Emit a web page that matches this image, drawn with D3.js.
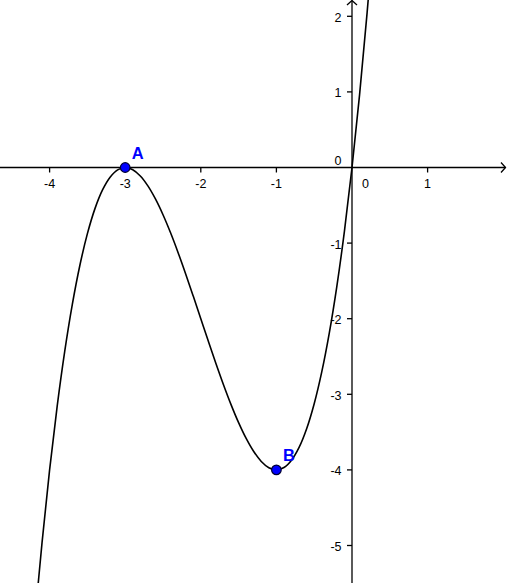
<!DOCTYPE html>
<html><head><meta charset="utf-8">
<script src="https://cdn.jsdelivr.net/npm/d3@7"></script>
<style>html,body{margin:0;padding:0;background:#fff;overflow:hidden}</style>
</head><body>
<script>
// Curve samples (x, y)
const curveX = [-4.2,-4.1,-4.0,-3.9,-3.8,-3.7,-3.6,-3.5,-3.4,-3.3,-3.2,-3.1,-3.0,-2.9,-2.8,-2.7,-2.6,-2.5,-2.4,-2.3,-2.2,-2.1,-2.0,-1.9,-1.8,-1.7,-1.6,-1.5,-1.4,-1.3,-1.2,-1.1,-1.0,-0.9,-0.8,-0.7,-0.6,-0.5,-0.4,-0.3,-0.2,-0.1,0.0,0.1,0.2,0.3];
const curveY = [-6.048,-4.961,-4,-3.159,-2.432,-1.813,-1.296,-0.875,-0.544,-0.297,-0.128,-0.031,0,-0.029,-0.112,-0.243,-0.416,-0.625,-0.864,-1.127,-1.408,-1.701,-2,-2.299,-2.592,-2.873,-3.136,-3.375,-3.584,-3.757,-3.888,-3.971,-4,-3.969,-3.872,-3.703,-3.456,-3.125,-2.704,-2.187,-1.568,-0.841,0,0.961,2.048,3.267];
const pointNames = ["A","B"];
const pointX = [-3,-1];
const pointY = [0,-4];
const xTicks = [-4,-3,-2,-1,1];
const yTicks = [-5,-4,-3,-2,-1,1,2];

const W = 507, H = 583;
const x = d3.scaleLinear().domain([0,1]).range([352,427.6]);
const y = d3.scaleLinear().domain([0,1]).range([167.5,91.9]);

const svg = d3.select("body").append("svg").attr("width",W).attr("height",H);
const font = "Liberation Sans, Arial, sans-serif";

// axes
const ax = svg.append("g").attr("stroke","#000").attr("stroke-width",1.3).attr("fill","none");
ax.append("line").attr("x1",0).attr("x2",505.5).attr("y1",y(0)).attr("y2",y(0));
ax.append("path").attr("d",`M${501},${y(0)-5}L505.5,${y(0)}L${501},${y(0)+5}`);
ax.append("line").attr("x1",x(0)).attr("x2",x(0)).attr("y1",H).attr("y2",0.5);
ax.append("path").attr("d",`M${x(0)-5},5L${x(0)},0.5L${x(0)+5},5`);

// x ticks
xTicks.forEach(t=>{
  ax.append("line").attr("x1",x(t)).attr("x2",x(t)).attr("y1",y(0)).attr("y2",y(0)+5);
});
svg.append("g").selectAll("text").data(xTicks).join("text")
  .attr("x",d=>x(d)).attr("y",y(0)+20.5).attr("text-anchor","middle")
  .attr("font-family",font).attr("font-size",12.5).attr("fill","#000")
  .text(d=>d);
svg.append("text").attr("x",x(0)+10).attr("y",y(0)+20.5).attr("text-anchor","start")
  .attr("font-family",font).attr("font-size",12.5).text("0");

// y ticks
yTicks.forEach(t=>{
  ax.append("line").attr("x1",x(0)-5).attr("x2",x(0)).attr("y1",y(t)).attr("y2",y(t));
});
svg.append("g").selectAll("text").data(yTicks).join("text")
  .attr("x",x(0)-10.5).attr("y",d=>y(d)+5.5).attr("text-anchor","end")
  .attr("font-family",font).attr("font-size",12.5).attr("fill","#000")
  .text(d=>d);
svg.append("text").attr("x",x(0)-10.5).attr("y",y(0)-2.5).attr("text-anchor","end")
  .attr("font-family",font).attr("font-size",12.5).text("0");

// curve
const pts = curveX.map((v,i)=>[v,curveY[i]]);
svg.append("path").datum(pts)
  .attr("d",d3.line().x(d=>x(d[0])).y(d=>y(d[1])).curve(d3.curveCatmullRom))
  .attr("fill","none").attr("stroke","#000").attr("stroke-width",1.6);

// points
pointNames.forEach((n,i)=>{
  svg.append("circle").attr("cx",x(pointX[i])).attr("cy",y(pointY[i])).attr("r",4.8)
    .attr("fill","#0000ff").attr("stroke","#000033").attr("stroke-width",1.2);
  svg.append("text").attr("x",x(pointX[i])+6.5).attr("y",y(pointY[i])-9)
    .attr("font-family",font).attr("font-size",16.5).attr("font-weight","bold")
    .attr("fill","#0000ff").text(n);
});
</script>
</body></html>
